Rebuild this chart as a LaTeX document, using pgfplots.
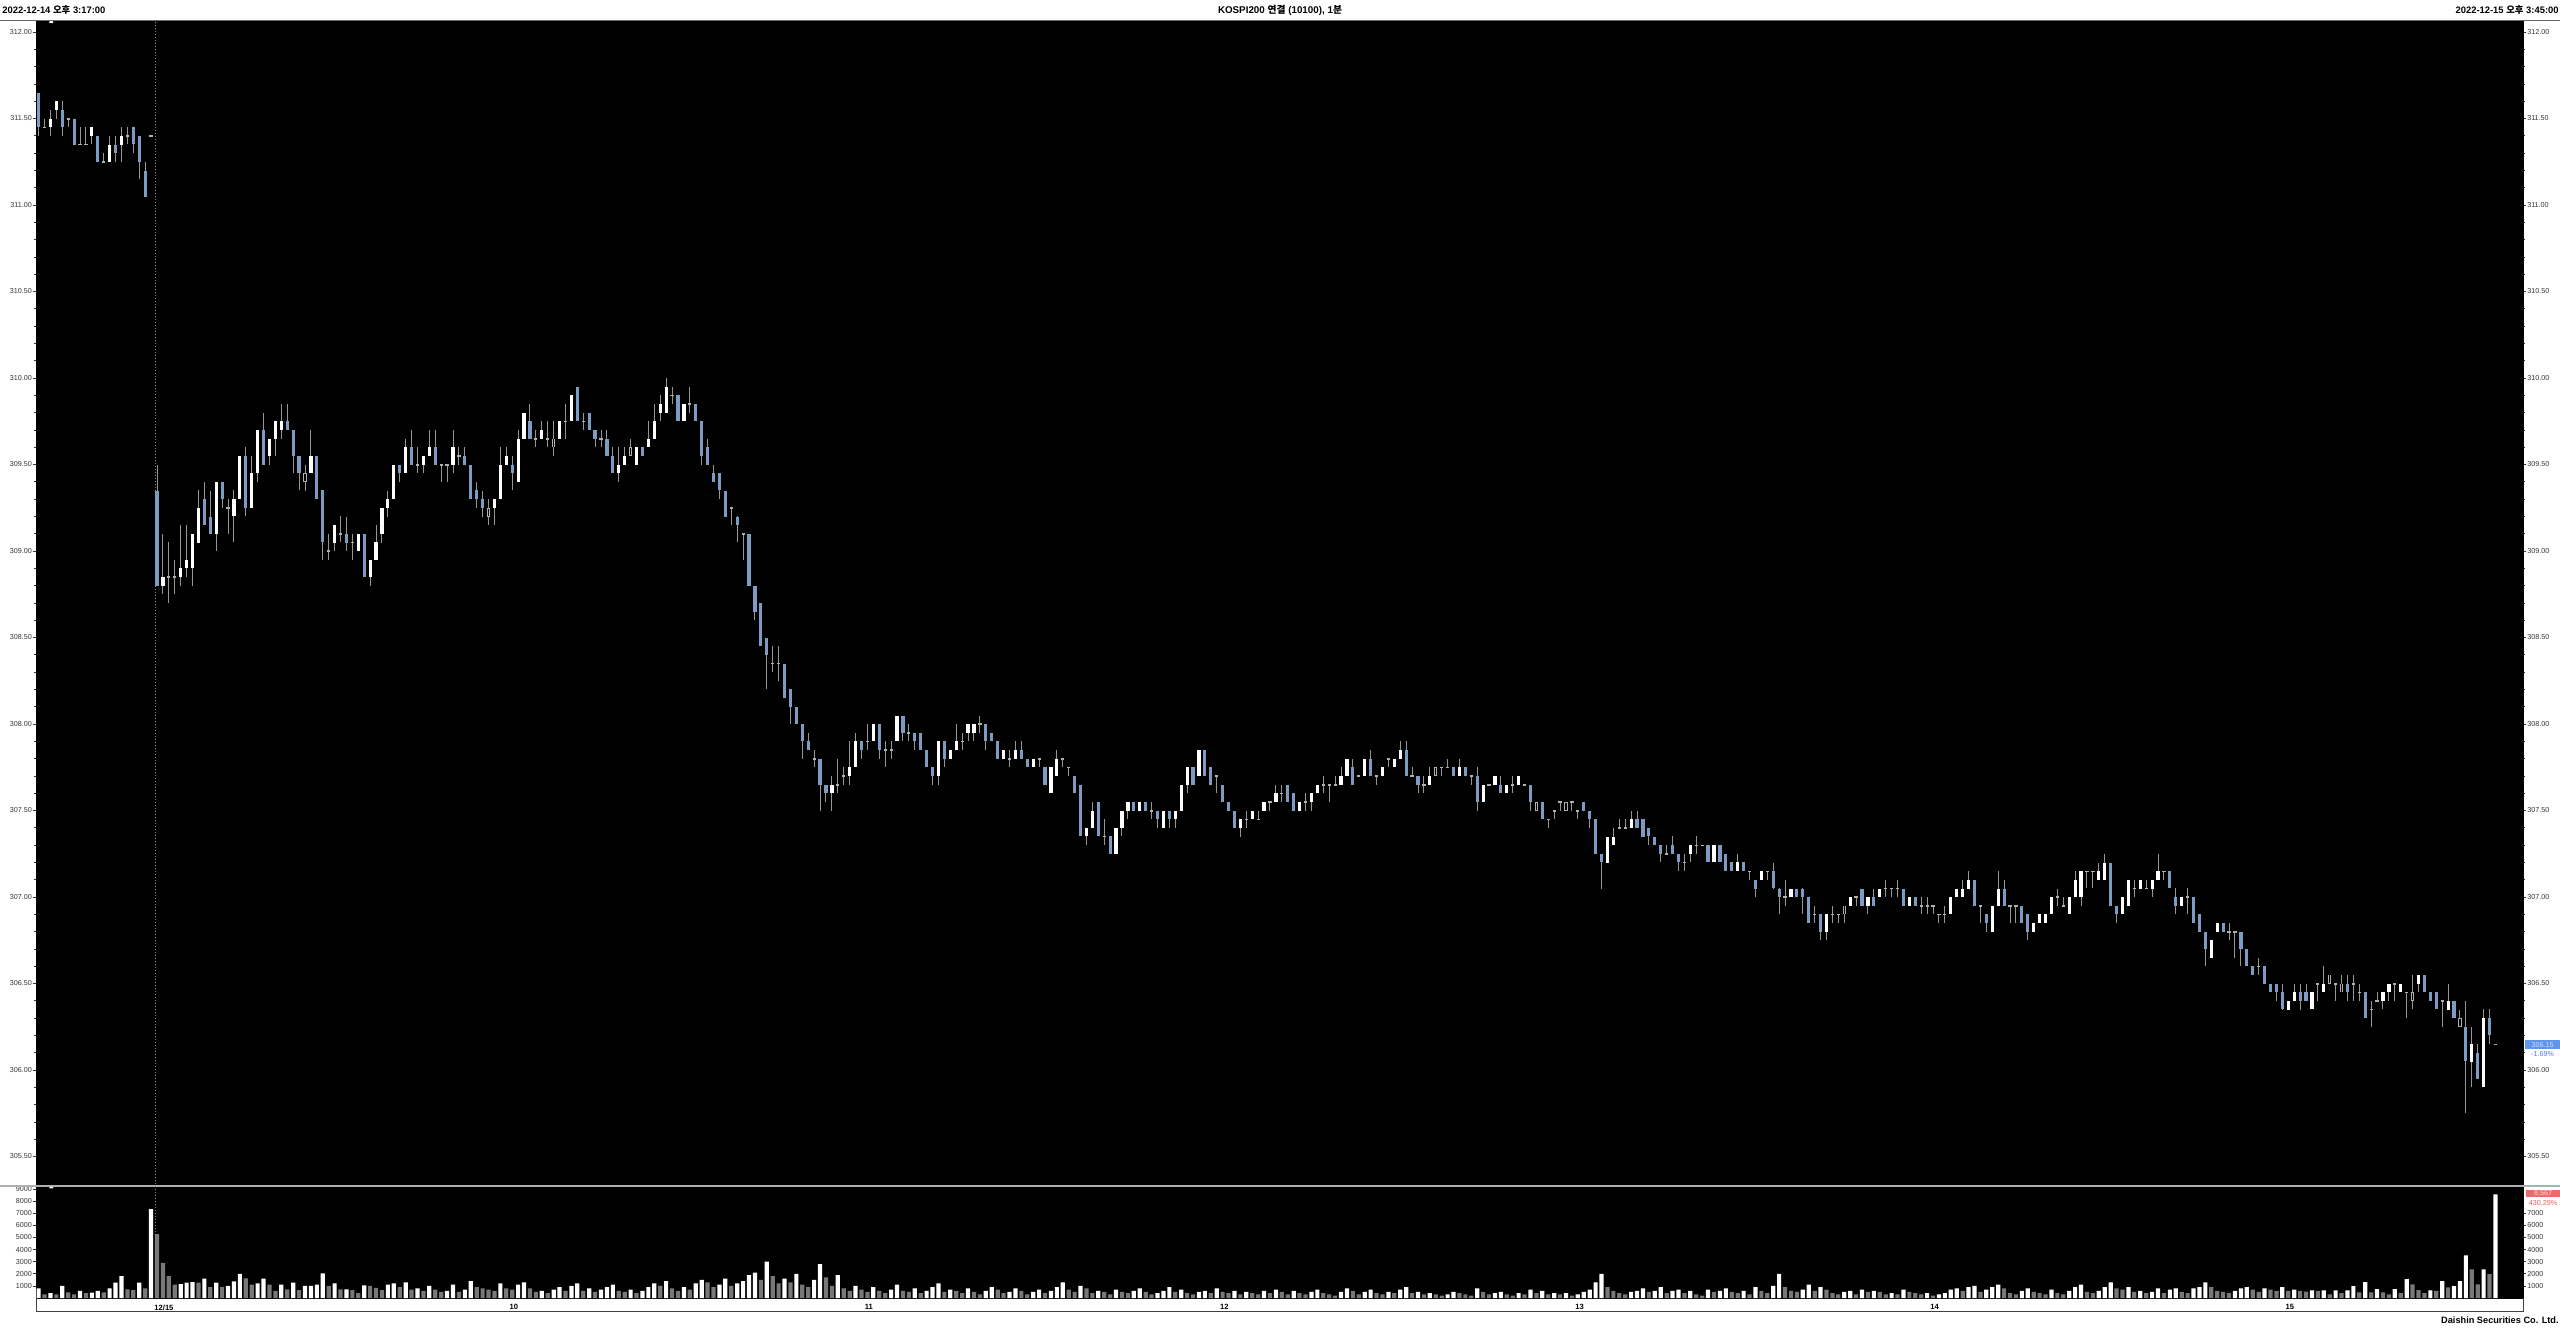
\documentclass[border=0pt]{standalone}
\usepackage{pgfplots}
\pgfplotsset{compat=1.18}
\usepackage{pgfplotstable}
\usepackage{fontspec}
\setmainfont{Liberation Sans}
\newfontfamily\kr{Noto Sans CJK KR}
\definecolor{cblue}{RGB}{125,155,195}
\definecolor{wick}{RGB}{150,150,150}
\definecolor{doji}{RGB}{175,175,175}
\definecolor{vgray}{RGB}{120,120,120}
\definecolor{lab}{RGB}{55,55,55}
\definecolor{sepc}{RGB}{175,175,175}
\definecolor{topc}{RGB}{105,105,105}
\definecolor{bluebox}{RGB}{95,150,235}
\definecolor{bluetxt}{RGB}{70,125,225}
\definecolor{redbox}{RGB}{240,105,105}
\definecolor{redtxt}{RGB}{235,90,90}

\pgfplotstableread{
i O H L C T V U
0 311.65 311.65 311.40 311.45 -1 800 1
1 311.45 311.50 311.45 311.45 0 300 0
2 311.45 311.55 311.40 311.50 1 400 1
3 311.55 311.60 311.50 311.60 1 300 0
4 311.55 311.60 311.40 311.45 -1 1000 1
5 311.50 311.50 311.45 311.50 0 470 0
6 311.50 311.50 311.35 311.35 -1 300 0
7 311.35 311.45 311.35 311.35 0 580 1
8 311.35 311.45 311.35 311.35 0 400 0
9 311.40 311.45 311.35 311.45 1 450 1
10 311.40 311.40 311.25 311.25 -1 600 1
11 311.25 311.30 311.25 311.25 0 470 0
12 311.25 311.40 311.25 311.35 1 800 1
13 311.35 311.40 311.25 311.30 -1 1270 1
14 311.35 311.45 311.25 311.40 1 1800 1
15 311.40 311.45 311.35 311.40 0 720 0
16 311.45 311.45 311.30 311.35 -1 660 0
17 311.40 311.40 311.15 311.25 -1 1270 1
18 311.20 311.25 311.05 311.05 -1 800 0
19 311.40 311.40 311.40 311.40 0 7340 1
20 309.35 309.50 308.80 308.80 -1 5280 0
21 308.80 309.10 308.75 308.85 1 2900 0
22 308.85 309.05 308.70 308.85 0 1800 0
23 308.85 308.95 308.75 308.85 0 1100 0
24 308.85 309.15 308.80 308.90 1 1150 1
25 308.90 309.15 308.85 308.95 1 1270 1
26 308.90 309.10 308.80 309.10 1 1320 1
27 309.05 309.35 309.05 309.25 1 1270 0
28 309.30 309.40 309.15 309.15 -1 1600 1
29 309.20 309.35 309.10 309.10 -1 900 0
30 309.10 309.40 309.00 309.40 1 1270 1
31 309.40 309.40 309.25 309.30 -1 930 0
32 309.25 309.30 309.10 309.25 0 1000 1
33 309.20 309.35 309.05 309.30 1 1380 1
34 309.30 309.55 309.30 309.55 1 2000 1
35 309.55 309.60 309.20 309.25 -1 1620 0
36 309.25 309.55 309.25 309.45 1 1100 0
37 309.45 309.70 309.40 309.70 1 1200 1
38 309.70 309.80 309.50 309.50 -1 1600 1
39 309.55 309.65 309.50 309.65 1 1100 0
40 309.65 309.75 309.55 309.75 1 600 0
41 309.70 309.85 309.65 309.75 1 1100 1
42 309.75 309.85 309.70 309.70 -1 720 0
43 309.70 309.70 309.45 309.55 -1 1270 1
44 309.55 309.55 309.35 309.45 -1 660 0
45 309.40 309.50 309.35 309.45 2 1000 1
46 309.45 309.70 309.45 309.55 1 1000 1
47 309.55 309.55 309.30 309.30 -1 1100 1
48 309.35 309.35 308.95 309.05 -1 2030 1
49 309.00 309.10 308.95 309.00 0 1000 0
50 309.05 309.15 309.00 309.15 1 1200 1
51 309.10 309.20 309.05 309.10 0 720 0
52 309.10 309.20 309.00 309.05 -1 720 1
53 309.05 309.10 308.95 309.05 0 660 0
54 309.00 309.10 309.00 309.10 1 400 0
55 309.10 309.10 308.85 308.85 -1 1050 1
56 308.85 308.95 308.80 308.95 1 1000 0
57 308.95 309.15 308.95 309.05 1 830 0
58 309.10 309.25 309.05 309.25 1 660 0
59 309.25 309.35 309.20 309.30 1 1100 1
60 309.30 309.50 309.30 309.50 1 1200 1
61 309.50 309.50 309.40 309.45 -1 900 0
62 309.45 309.65 309.45 309.60 1 1300 1
63 309.60 309.70 309.50 309.50 -1 700 0
64 309.50 309.60 309.45 309.50 0 800 1
65 309.50 309.55 309.45 309.55 1 600 0
66 309.55 309.70 309.55 309.60 1 1000 1
67 309.60 309.70 309.50 309.50 -1 700 0
68 309.50 309.50 309.40 309.50 0 500 0
69 309.50 309.50 309.40 309.50 0 600 1
70 309.50 309.70 309.45 309.60 1 1100 1
71 309.55 309.60 309.50 309.55 0 500 0
72 309.55 309.60 309.50 309.50 -1 700 1
73 309.50 309.50 309.30 309.30 -1 1400 1
74 309.35 309.40 309.25 309.30 -1 900 0
75 309.30 309.35 309.20 309.25 -1 800 0
76 309.20 309.30 309.15 309.25 2 700 0
77 309.25 309.30 309.15 309.30 1 600 0
78 309.30 309.60 309.30 309.50 1 1200 1
79 309.50 309.60 309.50 309.55 1 800 0
80 309.50 309.55 309.35 309.45 -1 700 0
81 309.40 309.70 309.40 309.65 1 1100 1
82 309.65 309.80 309.65 309.80 1 1300 1
83 309.75 309.85 309.65 309.65 -1 800 0
84 309.65 309.70 309.60 309.65 0 500 0
85 309.65 309.75 309.65 309.70 1 600 1
86 309.65 309.75 309.60 309.65 0 400 0
87 309.60 309.75 309.55 309.65 2 700 1
88 309.65 309.75 309.65 309.75 1 900 1
89 309.75 309.85 309.65 309.75 0 600 0
90 309.75 309.90 309.75 309.90 1 1000 1
91 309.95 309.95 309.75 309.75 -1 1200 1
92 309.75 309.80 309.70 309.75 0 600 0
93 309.80 309.80 309.70 309.70 -1 800 1
94 309.70 309.70 309.60 309.65 -1 500 0
95 309.65 309.70 309.60 309.65 0 700 1
96 309.65 309.70 309.55 309.55 -1 900 1
97 309.55 309.60 309.45 309.45 -1 1100 1
98 309.45 309.60 309.40 309.50 1 600 0
99 309.50 309.60 309.50 309.55 1 500 0
100 309.55 309.65 309.55 309.60 2 700 1
101 309.50 309.60 309.50 309.60 1 400 0
102 309.60 309.60 309.55 309.55 -1 600 1
103 309.60 309.75 309.60 309.65 1 900 1
104 309.65 309.85 309.65 309.75 1 1200 1
105 309.80 309.90 309.75 309.85 1 1000 0
106 309.80 310.00 309.80 309.95 1 1400 1
107 309.90 309.95 309.85 309.90 0 800 0
108 309.90 309.90 309.75 309.75 -1 600 0
109 309.75 309.85 309.75 309.85 1 900 1
110 309.85 309.95 309.80 309.85 0 700 0
111 309.85 309.85 309.75 309.75 -1 1200 1
112 309.75 309.75 309.50 309.55 -1 1500 1
113 309.60 309.65 309.50 309.50 -1 1300 0
114 309.45 309.50 309.40 309.40 -1 900 0
115 309.45 309.45 309.30 309.35 -1 1100 1
116 309.35 309.35 309.20 309.20 -1 1600 1
117 309.25 309.25 309.15 309.25 0 1000 0
118 309.20 309.20 309.05 309.15 -1 1200 1
119 309.10 309.10 308.95 309.10 0 1400 1
120 309.10 309.10 308.80 308.80 -1 1900 1
121 308.80 308.80 308.60 308.65 -1 2100 1
122 308.70 308.70 308.45 308.45 -1 1500 0
123 308.50 308.50 308.20 308.40 -1 3000 1
124 308.35 308.45 308.30 308.35 0 1800 0
125 308.35 308.45 308.25 308.35 0 1200 0
126 308.35 308.35 308.15 308.15 -1 1600 1
127 308.20 308.20 308.00 308.10 -1 1300 0
128 308.10 308.10 308.00 308.00 -1 2000 1
129 308.00 308.00 307.80 307.90 -1 1100 0
130 307.90 307.95 307.85 307.85 -1 900 0
131 307.80 307.85 307.75 307.80 0 1500 1
132 307.80 307.80 307.50 307.65 -1 2800 1
133 307.65 307.65 307.55 307.60 -1 1700 0
134 307.60 307.70 307.50 307.65 1 1000 0
135 307.65 307.80 307.60 307.65 0 1900 1
136 307.70 307.75 307.65 307.70 0 800 0
137 307.70 307.90 307.65 307.75 1 600 0
138 307.75 307.95 307.75 307.90 1 1000 1
139 307.90 307.90 307.80 307.85 -1 700 0
140 307.90 308.00 307.85 307.90 0 500 0
141 307.90 308.00 307.90 308.00 1 900 1
142 308.00 308.00 307.80 307.85 -1 600 0
143 307.85 307.90 307.75 307.85 0 400 0
144 307.85 307.90 307.80 307.85 0 700 1
145 307.90 308.05 307.90 308.05 1 1100 1
146 308.05 308.05 307.90 307.95 -1 600 0
147 307.95 308.00 307.90 307.95 0 500 0
148 307.95 307.95 307.85 307.90 -1 800 1
149 307.95 307.95 307.85 307.85 -1 400 0
150 307.85 307.85 307.75 307.75 -1 600 1
151 307.75 307.75 307.65 307.70 -1 900 1
152 307.70 307.90 307.65 307.90 1 1200 1
153 307.90 307.90 307.75 307.80 -1 500 0
154 307.80 307.85 307.80 307.85 1 700 1
155 307.85 308.00 307.85 307.90 1 600 0
156 307.90 307.95 307.85 307.90 0 400 0
157 307.95 308.00 307.90 308.00 1 800 1
158 307.95 308.00 307.90 308.00 1 500 0
159 308.00 308.05 307.95 308.00 0 300 0
160 308.00 308.00 307.85 307.90 -1 600 1
161 307.95 307.95 307.90 307.90 -1 900 1
162 307.90 307.90 307.80 307.80 -1 700 0
163 307.80 307.85 307.80 307.85 1 400 0
164 307.80 307.85 307.75 307.80 0 500 1
165 307.80 307.90 307.80 307.85 1 800 1
166 307.85 307.90 307.80 307.80 -1 600 0
167 307.80 307.80 307.75 307.75 -1 300 0
168 307.75 307.80 307.75 307.80 1 500 1
169 307.80 307.80 307.75 307.80 0 700 1
170 307.75 307.75 307.65 307.65 -1 400 0
171 307.60 307.75 307.60 307.75 1 600 1
172 307.70 307.85 307.70 307.80 1 900 1
173 307.80 307.80 307.75 307.80 0 1300 1
174 307.75 307.75 307.70 307.75 0 700 0
175 307.70 307.70 307.60 307.60 -1 500 0
176 307.65 307.65 307.35 307.35 -1 1000 1
177 307.35 307.40 307.30 307.40 1 800 0
178 307.40 307.55 307.40 307.50 1 400 0
179 307.55 307.55 307.35 307.35 -1 600 1
180 307.35 307.45 307.30 307.35 0 500 0
181 307.35 307.35 307.25 307.25 -1 300 0
182 307.25 307.40 307.25 307.40 1 700 1
183 307.40 307.50 307.35 307.50 1 500 0
184 307.50 307.55 307.45 307.55 1 400 0
185 307.55 307.55 307.50 307.50 -1 600 1
186 307.50 307.55 307.50 307.55 1 800 1
187 307.55 307.55 307.50 307.50 -1 500 0
188 307.50 307.55 307.45 307.50 0 300 0
189 307.50 307.50 307.40 307.45 -1 400 1
190 307.40 307.50 307.40 307.50 1 600 1
191 307.50 307.50 307.40 307.45 -1 900 1
192 307.45 307.50 307.40 307.50 1 500 0
193 307.50 307.65 307.50 307.65 1 700 1
194 307.65 307.75 307.60 307.75 1 400 0
195 307.75 307.75 307.65 307.65 -1 300 0
196 307.70 307.85 307.70 307.85 1 500 1
197 307.85 307.85 307.70 307.70 -1 600 1
198 307.75 307.75 307.65 307.65 -1 400 0
199 307.70 307.70 307.60 307.70 0 800 1
200 307.65 307.65 307.55 307.55 -1 500 0
201 307.55 307.55 307.50 307.50 -1 400 0
202 307.50 307.50 307.40 307.40 -1 600 1
203 307.40 307.45 307.35 307.45 1 300 0
204 307.45 307.50 307.40 307.45 0 500 1
205 307.45 307.50 307.45 307.50 1 400 0
206 307.45 307.50 307.45 307.45 0 300 0
207 307.50 307.55 307.50 307.55 1 600 1
208 307.55 307.55 307.50 307.55 0 400 0
209 307.55 307.65 307.55 307.60 1 700 1
210 307.60 307.65 307.55 307.60 0 500 0
211 307.65 307.65 307.55 307.55 -1 300 0
212 307.60 307.60 307.50 307.50 -1 600 1
213 307.50 307.55 307.50 307.55 1 400 0
214 307.55 307.60 307.50 307.55 0 300 0
215 307.55 307.60 307.50 307.60 1 500 1
216 307.60 307.65 307.60 307.65 1 700 1
217 307.65 307.70 307.60 307.65 0 400 0
218 307.65 307.65 307.55 307.65 0 300 0
219 307.65 307.70 307.65 307.65 0 200 0
220 307.65 307.75 307.65 307.70 1 500 1
221 307.70 307.80 307.70 307.80 1 800 1
222 307.75 307.80 307.65 307.65 -1 600 0
223 307.70 307.70 307.70 307.70 0 300 0
224 307.70 307.80 307.70 307.80 1 500 1
225 307.80 307.85 307.70 307.70 -1 700 1
226 307.70 307.70 307.65 307.70 0 400 0
227 307.70 307.75 307.70 307.75 1 300 0
228 307.80 307.80 307.75 307.80 0 500 1
229 307.75 307.80 307.75 307.80 1 400 0
230 307.80 307.90 307.80 307.85 1 700 1
231 307.85 307.90 307.70 307.70 -1 900 1
232 307.70 307.75 307.70 307.70 0 400 0
233 307.70 307.70 307.60 307.65 -1 500 1
234 307.65 307.70 307.60 307.65 0 300 0
235 307.65 307.75 307.65 307.70 1 400 1
236 307.70 307.75 307.70 307.75 2 300 0
237 307.75 307.75 307.70 307.75 0 200 0
238 307.75 307.80 307.75 307.75 0 300 1
239 307.75 307.75 307.70 307.70 -1 500 1
240 307.70 307.80 307.70 307.75 1 400 0
241 307.75 307.75 307.70 307.70 -1 300 0
242 307.70 307.70 307.65 307.70 0 200 0
243 307.70 307.75 307.50 307.55 -1 800 1
244 307.55 307.65 307.55 307.65 1 500 0
245 307.65 307.65 307.65 307.65 0 300 0
246 307.65 307.70 307.65 307.70 1 400 1
247 307.65 307.70 307.60 307.60 -1 500 1
248 307.60 307.65 307.60 307.65 1 300 0
249 307.65 307.70 307.60 307.65 0 200 0
250 307.65 307.70 307.65 307.70 1 400 1
251 307.65 307.65 307.65 307.65 0 300 0
252 307.65 307.65 307.50 307.55 -1 700 1
253 307.50 307.55 307.50 307.55 2 400 0
254 307.55 307.55 307.45 307.45 -1 600 1
255 307.45 307.45 307.40 307.45 0 300 0
256 307.50 307.50 307.45 307.50 0 400 1
257 307.55 307.55 307.50 307.55 0 300 0
258 307.50 307.55 307.50 307.55 2 400 1
259 307.55 307.55 307.50 307.55 0 200 0
260 307.50 307.50 307.45 307.50 0 300 1
261 307.55 307.55 307.50 307.50 -1 500 1
262 307.50 307.50 307.40 307.45 -1 700 1
263 307.45 307.45 307.25 307.25 -1 1300 1
264 307.25 307.25 307.05 307.20 -1 2000 1
265 307.20 307.35 307.20 307.35 1 900 0
266 307.30 307.40 307.30 307.35 1 600 0
267 307.40 307.45 307.40 307.40 0 400 0
268 307.40 307.45 307.40 307.40 0 300 0
269 307.40 307.50 307.40 307.45 1 500 1
270 307.45 307.50 307.40 307.40 -1 600 1
271 307.45 307.45 307.35 307.35 -1 800 1
272 307.40 307.40 307.30 307.35 -1 500 0
273 307.35 307.35 307.30 307.30 -1 600 1
274 307.30 307.30 307.20 307.25 -1 900 1
275 307.25 307.30 307.25 307.25 0 400 0
276 307.30 307.35 307.25 307.25 -1 600 1
277 307.25 307.25 307.15 307.20 -1 700 1
278 307.20 307.25 307.15 307.20 0 400 0
279 307.25 307.30 307.20 307.30 1 600 1
280 307.30 307.35 307.25 307.30 0 300 0
281 307.30 307.30 307.30 307.30 0 200 0
282 307.30 307.30 307.20 307.20 -1 700 1
283 307.20 307.30 307.20 307.30 1 500 0
284 307.30 307.30 307.20 307.20 -1 600 1
285 307.25 307.25 307.15 307.15 -1 800 1
286 307.20 307.20 307.15 307.15 -1 500 0
287 307.15 307.25 307.15 307.20 1 400 0
288 307.20 307.20 307.15 307.15 -1 600 1
289 307.15 307.15 307.10 307.15 0 300 0
290 307.10 307.10 307.00 307.05 -1 900 1
291 307.10 307.15 307.10 307.15 1 600 0
292 307.15 307.15 307.10 307.15 0 400 0
293 307.15 307.20 307.05 307.05 -1 1000 1
294 307.05 307.05 306.90 307.00 -1 2000 1
295 307.00 307.10 306.95 307.00 0 900 0
296 307.00 307.05 307.00 307.05 1 600 0
297 307.05 307.05 307.00 307.00 -1 500 0
298 307.05 307.05 306.90 307.00 -1 700 1
299 307.00 307.00 306.85 306.85 -1 1100 1
300 306.90 306.95 306.85 306.90 0 600 0
301 306.90 306.90 306.75 306.80 -1 900 1
302 306.80 306.90 306.75 306.90 1 700 0
303 306.90 306.95 306.85 306.90 0 400 0
304 306.90 306.90 306.85 306.90 0 300 0
305 306.90 306.95 306.85 306.95 2 500 1
306 306.95 307.00 306.95 307.00 1 600 1
307 307.00 307.00 306.95 307.00 0 300 0
308 307.05 307.05 306.95 306.95 -1 700 1
309 306.95 307.00 306.90 307.00 1 500 0
310 307.00 307.05 306.95 306.95 -1 600 1
311 307.00 307.05 307.00 307.05 1 500 0
312 307.05 307.10 307.00 307.05 0 300 0
313 307.05 307.05 307.00 307.05 0 400 1
314 307.05 307.10 307.00 307.05 0 300 0
315 307.05 307.05 306.95 306.95 -1 700 1
316 306.95 307.00 306.95 307.00 1 500 0
317 307.00 307.00 306.95 306.95 -1 400 0
318 306.95 307.00 306.90 306.95 0 300 0
319 306.95 307.00 306.90 306.95 0 400 1
320 306.95 306.95 306.90 306.95 0 200 0
321 306.90 306.90 306.85 306.90 0 300 1
322 306.90 306.95 306.85 306.90 0 400 1
323 306.90 307.00 306.90 307.00 1 700 1
324 307.00 307.05 307.00 307.05 1 800 1
325 307.00 307.10 307.00 307.05 1 600 0
326 307.05 307.15 307.05 307.10 1 900 1
327 307.10 307.10 306.95 306.95 -1 1000 1
328 306.95 306.95 306.85 306.95 0 500 0
329 306.90 306.90 306.80 306.85 -1 700 1
330 306.80 306.95 306.80 306.95 1 900 1
331 306.95 307.15 306.95 307.05 1 1100 1
332 307.05 307.10 306.95 306.95 -1 800 0
333 306.95 306.95 306.85 306.95 0 400 0
334 306.95 306.95 306.85 306.95 0 300 0
335 306.95 306.95 306.85 306.85 -1 600 1
336 306.90 306.90 306.75 306.80 -1 800 1
337 306.80 306.85 306.80 306.85 1 500 0
338 306.85 306.90 306.85 306.90 1 400 0
339 306.85 306.90 306.85 306.90 1 300 0
340 306.90 307.00 306.90 307.00 1 700 1
341 307.00 307.05 306.95 307.00 0 400 0
342 306.95 307.00 306.95 306.95 0 300 0
343 306.90 307.00 306.90 307.00 1 600 1
344 307.00 307.15 307.00 307.10 1 900 1
345 307.00 307.15 306.95 307.15 1 1100 1
346 307.15 307.15 307.05 307.15 0 500 0
347 307.15 307.15 307.05 307.15 0 400 0
348 307.10 307.20 307.10 307.15 1 600 1
349 307.10 307.25 307.10 307.20 1 900 1
350 307.20 307.20 306.95 306.95 -1 1300 1
351 306.95 306.95 306.85 306.90 -1 800 0
352 306.90 307.00 306.90 307.00 1 700 0
353 306.95 307.10 306.95 307.10 1 900 1
354 307.05 307.10 307.00 307.05 0 500 0
355 307.05 307.10 307.05 307.10 1 600 1
356 307.05 307.10 307.05 307.05 0 400 0
357 307.05 307.10 307.00 307.10 1 500 1
358 307.10 307.25 307.10 307.15 1 800 1
359 307.15 307.15 307.10 307.15 0 400 0
360 307.15 307.15 307.05 307.05 -1 700 1
361 307.00 307.05 306.90 306.95 -1 800 1
362 306.95 307.00 306.95 307.00 1 500 0
363 307.00 307.05 306.90 307.00 0 400 0
364 307.00 307.00 306.85 306.85 -1 800 1
365 306.90 306.90 306.80 306.80 -1 900 1
366 306.80 306.80 306.60 306.70 -1 1300 1
367 306.65 306.75 306.65 306.75 1 900 0
368 306.80 306.85 306.80 306.85 1 600 0
369 306.85 306.85 306.80 306.80 -1 500 0
370 306.80 306.85 306.75 306.80 0 400 0
371 306.80 306.80 306.65 306.80 0 600 1
372 306.80 306.80 306.60 306.70 -1 800 1
373 306.70 306.70 306.60 306.60 -1 900 1
374 306.60 306.60 306.55 306.55 -1 700 0
375 306.60 306.65 306.55 306.60 0 500 0
376 306.60 306.60 306.50 306.50 -1 800 1
377 306.50 306.50 306.45 306.45 -1 700 0
378 306.50 306.50 306.40 306.45 -1 600 0
379 306.45 306.50 306.35 306.35 -1 900 1
380 306.35 306.40 306.35 306.40 1 600 0
381 306.40 306.50 306.40 306.45 1 700 1
382 306.45 306.50 306.35 306.40 -1 580 0
383 306.45 306.50 306.40 306.40 -1 520 0
384 306.35 306.45 306.35 306.45 1 630 1
385 306.50 306.50 306.40 306.50 0 580 0
386 306.45 306.60 306.45 306.50 1 630 1
387 306.50 306.55 306.50 306.55 2 300 0
388 306.50 306.50 306.40 306.50 0 630 1
389 306.45 306.55 306.45 306.50 2 410 0
390 306.50 306.55 306.40 306.45 -1 630 1
391 306.50 306.55 306.40 306.50 0 990 1
392 306.45 306.50 306.40 306.45 0 470 0
393 306.45 306.45 306.30 306.30 -1 1320 1
394 306.35 306.40 306.25 306.35 0 470 0
395 306.40 306.45 306.40 306.40 0 740 1
396 306.40 306.45 306.35 306.45 1 470 0
397 306.45 306.50 306.40 306.50 1 300 0
398 306.50 306.50 306.40 306.50 0 740 1
399 306.45 306.50 306.45 306.50 1 410 0
400 306.45 306.45 306.30 306.45 0 1570 1
401 306.40 306.55 306.35 306.45 2 1130 0
402 306.50 306.55 306.45 306.55 1 660 0
403 306.55 306.55 306.45 306.45 -1 410 0
404 306.45 306.45 306.40 306.40 -1 630 1
405 306.45 306.45 306.35 306.35 -1 580 0
406 306.40 306.40 306.25 306.40 0 1400 1
407 306.35 306.50 306.35 306.40 1 880 0
408 306.40 306.40 306.30 306.30 -1 990 1
409 306.25 306.35 306.25 306.30 2 1400 1
410 306.25 306.40 305.75 306.05 -1 3520 1
411 306.05 306.25 305.90 306.15 1 2365 0
412 306.10 306.15 305.95 305.95 -1 1130 0
413 305.90 306.35 305.90 306.30 1 2365 1
414 306.30 306.35 306.15 306.20 -1 1980 0
415 306.15 306.15 306.15 306.15 0 8567 1
}\candles

\pgfplotsset{
  chartbase/.style={
    scale only axis, width=1243.5pt,
    xmin=-0.44, xmax=419.66,
    axis line style={draw=black},
    tick align=outside,
    major tick length=1.5pt, minor tick length=1pt,
    tick style={draw=lab, line width=0.4pt},
    tick label style={font=\fontsize{3.6}{4}\selectfont, text=lab},
    yticklabel style={inner sep=0.4pt},
    /pgf/number format/assume math mode=true,
    clip=true,
  },
  pricebase/.style={chartbase,
    at={(18pt,-593pt)}, anchor=south west, height=582.5pt,
    ymin=305.3295, ymax=312.0636,
    ytick={305.5,306,...,312}, minor y tick num=4,
    yticklabel={\pgfmathprintnumber[fixed,fixed zerofill,precision=2,assume math mode=true]{\tick}},
    xtick=\empty,
  },
  volbase/.style={chartbase,
    at={(18pt,-649pt)}, anchor=south west, height=56pt,
    ymin=0, ymax=9251, scaled y ticks=false,
    yticklabel={\pgfmathprintnumber[fixed,precision=0,1000 sep={},assume math mode=true]{\tick}},
  },
}

\begin{document}
\begin{tikzpicture}[x=1pt,y=1pt]
\useasboundingbox (0,0) rectangle (1280,-664);
\fill[white] (0,0) rectangle (1280,-664);

% header
\node[anchor=west, inner sep=0, font=\bfseries\fontsize{4.7}{5}\selectfont] at (1,-5.2) {2022-12-14 {\kr 오후} 3:17:00};
\node[anchor=center, inner sep=0, font=\bfseries\fontsize{4.9}{5}\selectfont] at (640,-5.2) {KOSPI200 {\kr 연결} (10100), 1{\kr 분}};
\node[anchor=east, inner sep=0, font=\bfseries\fontsize{4.7}{5}\selectfont] at (1279.5,-5.2) {2022-12-15 {\kr 오후} 3:45:00};

% right-side labels (drawn first, no background)
\begin{axis}[pricebase, axis y line*=right, axis x line=none, yticklabel pos=right]
  \addplot[draw=none] coordinates {(0,306)};
\end{axis}
\begin{axis}[volbase, ytick={1000,2000,...,7000}, axis y line*=right, axis x line=none, yticklabel pos=right]
  \addplot[draw=none] coordinates {(0,1000)};
\end{axis}

% ---------------- price panel ----------------
\begin{axis}[pricebase, ytick pos=left, axis background/.style={fill=black}]
  % wicks
  \addplot[draw=none, forget plot, error bars/.cd, y dir=both, y explicit, error mark=none,
    error bar style={draw=wick, line width=0.5pt}]
    table[x=i, y expr={(\thisrow{H}+\thisrow{L})/2}, y error expr={(\thisrow{H}-\thisrow{L})/2}] {\candles};
  % up bodies
  \addplot[draw=none, forget plot, restrict expr to domain={\thisrow{T}}{0.5:1.5},
    error bars/.cd, y dir=both, y explicit, error mark=none,
    error bar style={draw=white, line width=1.6pt}]
    table[x=i, y expr={(\thisrow{O}+\thisrow{C})/2}, y error expr={abs(\thisrow{C}-\thisrow{O})/2}] {\candles};
  % down bodies
  \addplot[draw=none, forget plot, restrict expr to domain={\thisrow{T}}{-1.5:-0.5},
    error bars/.cd, y dir=both, y explicit, error mark=none,
    error bar style={draw=cblue, line width=1.6pt}]
    table[x=i, y expr={(\thisrow{O}+\thisrow{C})/2}, y error expr={abs(\thisrow{C}-\thisrow{O})/2}] {\candles};
  % hollow bodies: outline
  \addplot[draw=none, forget plot, restrict expr to domain={\thisrow{T}}{1.5:2.5},
    error bars/.cd, y dir=both, y explicit, error mark=none,
    error bar style={draw=doji, line width=1.6pt}]
    table[x=i, y expr={(\thisrow{O}+\thisrow{C})/2}, y error expr={abs(\thisrow{C}-\thisrow{O})/2}] {\candles};
  \addplot[draw=none, forget plot, restrict expr to domain={\thisrow{T}}{1.5:2.5},
    error bars/.cd, y dir=both, y explicit, error mark=none,
    error bar style={draw=black, line width=0.6pt}]
    table[x=i, y expr={(\thisrow{O}+\thisrow{C})/2}, y error expr={abs(\thisrow{C}-\thisrow{O})/2-0.0035}] {\candles};
  % doji dashes
  \addplot[draw=none, forget plot, restrict expr to domain={\thisrow{T}}{-0.5:0.5},
    error bars/.cd, y dir=both, y explicit, error mark=none,
    error bar style={draw=doji, line width=1.6pt}]
    table[x=i, y expr={\thisrow{C}}, y error expr={0.003}] {\candles};
\end{axis}

% ---------------- volume panel ----------------
\begin{axis}[volbase, ytick={1000,2000,...,9000}, ytick pos=left, axis background/.style={fill=black},
   xtick={19.5,79.5,139.5,199.5,259.5,319.5,379.5},
   xticklabels={12/15,10,11,12,13,14,15},
   x tick style={draw=none},
   xticklabel style={anchor=north west, inner sep=0, yshift=-1.6pt, xshift=0pt,
     font=\bfseries\fontsize{3.8}{4}\selectfont, text=black}]
  \addplot[ybar, bar width=2.1pt, bar shift=0pt, fill=white, draw=none,
    restrict expr to domain={\thisrow{U}}{0.5:1.5}] table[x=i, y=V] {\candles};
  \addplot[ybar, bar width=2.1pt, bar shift=0pt, fill=vgray, draw=none,
    restrict expr to domain={\thisrow{U}}{-0.5:0.5}] table[x=i, y=V] {\candles};
\end{axis}

% frame lines
\draw[topc, line width=0.7pt] (0,-10.3) -- (1280,-10.3);
\draw[sepc, line width=0.6pt] (0,-593) -- (1280,-593);
\draw[black!75, line width=0.5pt] (18,-649) -- (18,-655.5) -- (1261.5,-655.5) -- (1261.5,-649);
% day separator
\draw[black!45!white, line width=0.4pt, dash pattern=on 0.5pt off 1pt] (77.5,-10.8) -- (77.5,-649);
% small scroll markers
\fill[white, rounded corners=0.4pt] (24.6,-10.6) rectangle (26.7,-11.5);
\fill[white, rounded corners=0.4pt] (24.6,-593.4) rectangle (26.7,-594.2);

% last-value markers
\fill[bluebox] (1262.5,-520) rectangle (1280,-524.6);
\node[inner sep=0, font=\fontsize{3.6}{4}\selectfont, text=blue!15!white] at (1271.3,-522.3) {306.15};
\node[inner sep=0, font=\fontsize{3.6}{4}\selectfont, text=bluetxt] at (1271.3,-527.2) {-1.69\%};
\fill[redbox] (1263,-595) rectangle (1280,-598.7);
\node[inner sep=0, font=\fontsize{3.6}{4}\selectfont, text=red!15!white] at (1271.5,-596.9) {8,567};
\node[inner sep=0, font=\fontsize{3.6}{4}\selectfont, text=redtxt] at (1271.5,-601.4) {430.29\%};

% footer
\node[anchor=east, inner sep=0, font=\bfseries\fontsize{4.6}{5}\selectfont] at (1279.5,-660) {Daishin Securities Co. Ltd.};
\end{tikzpicture}
\end{document}
